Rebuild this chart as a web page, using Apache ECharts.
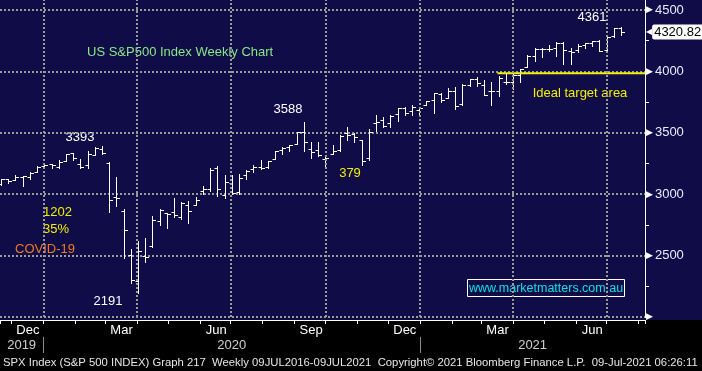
<!DOCTYPE html>
<html><head><meta charset="utf-8">
<script src="https://cdn.jsdelivr.net/npm/echarts@6/dist/echarts.min.js"></script>
<style>html,body{margin:0;padding:0;background:#000;}#c{width:702px;height:371px;}</style>
</head><body><div id="c"></div>
<script>
// ---- data (weekly bars, dated by week-ending Friday) ----
var weekDates = ['2019-11-15','2019-11-22','2019-11-29','2019-12-06','2019-12-13','2019-12-20','2019-12-27',
'2020-01-03','2020-01-10','2020-01-17','2020-01-24','2020-01-31','2020-02-07','2020-02-14','2020-02-21','2020-02-28',
'2020-03-06','2020-03-13','2020-03-20','2020-03-27','2020-04-03','2020-04-10','2020-04-17','2020-04-24','2020-05-01',
'2020-05-08','2020-05-15','2020-05-22','2020-05-29','2020-06-05','2020-06-12','2020-06-19','2020-06-26','2020-07-03',
'2020-07-10','2020-07-17','2020-07-24','2020-07-31','2020-08-07','2020-08-14','2020-08-21','2020-08-28','2020-09-04',
'2020-09-11','2020-09-18','2020-09-25','2020-10-02','2020-10-09','2020-10-16','2020-10-23','2020-10-30','2020-11-06',
'2020-11-13','2020-11-20','2020-11-27','2020-12-04','2020-12-11','2020-12-18','2020-12-25','2021-01-01','2021-01-08',
'2021-01-15','2021-01-22','2021-01-29','2021-02-05','2021-02-12','2021-02-19','2021-02-26','2021-03-05','2021-03-12',
'2021-03-19','2021-03-26','2021-04-02','2021-04-09','2021-04-16','2021-04-23','2021-04-30','2021-05-07','2021-05-14',
'2021-05-21','2021-05-28','2021-06-04','2021-06-11','2021-06-18','2021-06-25','2021-07-02','2021-07-09'];
var opens = [3080.3,3123.4,3117.4,3143.9,3141.9,3183.6,3229.7,
3247.2,3217.6,3273.4,3333.1,3247.2,3235.7,3318.3,3369.0,3257.6,
2974.3,2863.9,2508.6,2290.7,2498.1,2578.3,2782.5,2845.6,2854.7,
2815.0,2915.5,2913.9,3025.2,3038.8,3213.3,2993.8,3094.4,3018.6,
3155.3,3205.1,3224.3,3219.8,3288.3,3356.0,3380.9,3410.0,3507.4,
3370.3,3363.6,3285.6,3324.0,3359.9,3500.0,3493.5,3441.4,3296.2,
3583.0,3600.2,3579.3,3653.8,3706.0,3675.3,3684.3,3723.0,3764.6,
3819.9,3781.9,3844.2,3731.2,3892.6,3939.6,3885.6,3842.5,3844.4,
3913.1,3916.5,3969.3,4034.4,4127.0,4179.8,4185.1,4192.0,4228.3,
4169.1,4170.2,4216.5,4233.0,4248.9,4173.4,4284.9,4356.5];
var highs = [3120.5,3127.6,3154.3,3150.6,3182.7,3225.6,3247.9,
3247.9,3282.0,3329.9,3337.8,3285.9,3348.0,3385.1,3393.5,3259.8,
3136.7,2882.6,2553.9,2615.9,2641.4,2818.6,2879.2,2846.0,2965.7,
2934.9,2944.3,2980.3,3068.7,3211.7,3233.1,3155.5,3155.5,3165.8,
3197.5,3240.7,3279.3,3272.9,3352.5,3387.9,3400.0,3509.4,3588.1,
3425.6,3428.9,3320.3,3397.2,3479.6,3549.9,3502.4,3441.4,3529.0,
3646.0,3628.5,3644.3,3699.2,3712.4,3726.7,3711.2,3756.1,3826.7,
3823.6,3861.5,3870.9,3894.6,3937.0,3950.4,3928.6,3914.5,3960.3,
3983.9,3978.2,4020.6,4129.5,4191.3,4194.2,4218.8,4238.0,4236.4,
4188.7,4219.6,4233.9,4249.7,4257.2,4286.1,4355.0,4361.9];
var lows = [3072.2,3091.4,3117.4,3070.3,3124.4,3183.6,3226.4,
3212.0,3214.6,3270.0,3281.5,3214.7,3214.6,3317.8,3328.5,2855.8,
2901.5,2478.9,2280.5,2191.9,2447.5,2566.7,2749.0,2727.1,2815.0,
2797.9,2766.6,2913.9,2999.7,3025.2,2984.0,2965.7,3004.6,2999.5,
3127.1,3184.0,3202.3,3209.5,3284.5,3327.0,3354.7,3410.0,3349.6,
3293.6,3313.9,3209.5,3323.7,3354.9,3440.4,3424.8,3233.9,3279.7,
3511.9,3545.6,3549.9,3594.4,3644.8,3645.8,3636.5,3723.0,3662.7,
3749.6,3781.9,3694.1,3725.6,3884.9,3884.9,3805.6,3723.3,3798.4,
3894.0,3853.5,3917.1,4034.4,4086.2,4118.4,4164.9,4123.0,4056.9,
4061.4,4155.9,4188.1,4205.5,4164.4,4173.4,4278.9,4300.4];
var closes = [3120.5,3110.3,3141.0,3145.9,3168.8,3221.2,3240.0,
3234.9,3265.4,3329.6,3295.5,3225.5,3327.7,3380.2,3337.8,2954.2,
2972.4,2711.0,2304.9,2541.5,2488.7,2789.8,2874.6,2836.7,2830.7,
2929.8,2863.7,2955.5,3044.3,3193.9,3041.3,3097.7,3009.1,3130.0,
3185.0,3224.7,3215.6,3271.1,3351.3,3372.9,3397.2,3508.0,3427.0,
3341.0,3319.5,3298.5,3348.4,3477.1,3483.3,3465.4,3270.0,3509.4,
3585.2,3557.5,3638.4,3699.1,3663.5,3709.4,3703.1,3756.1,3824.7,
3768.3,3841.5,3714.2,3886.8,3934.8,3906.7,3811.2,3841.9,3943.3,
3913.1,3974.5,4019.9,4128.8,4185.5,4180.2,4181.2,4232.6,4173.9,
4155.9,4204.1,4229.9,4247.4,4166.5,4280.7,4352.3,4320.82];
var lastPrice = 4320.82;
var yLabelValues = [2500,3000,3500,4000,4500];
var shownMonths = {11:'Dec',2:'Mar',5:'Jun',8:'Sep'};
var yearLabels = ['2019','2020','2021'];
var quarterStarts = ['2020-01-01','2020-04-01','2020-07-01','2020-10-01','2021-01-01','2021-04-01','2021-07-01'];
var targetLevel = 3985;
var targetStart = '2021-03-17';

// ---- helpers ----
function d(s){var p=s.split('-');return Date.UTC(+p[0],+p[1]-1,+p[2]);}
var DAY = 86400000;
var T0 = Date.UTC(2019,10,20), T1 = Date.UTC(2021,7,7,5);
var BAR_SHIFT = 6*DAY; // Bloomberg draws each weekly bar one slot to the right of its date grid
var ohlc = weekDates.map(function(s,i){return [d(s),opens[i],highs[i],lows[i],closes[i]];});
var yearData = yearLabels.map(function(y){
  var s=Math.max(Date.UTC(+y,0,1),T0), e=Math.min(Date.UTC(+y+1,0,1),T1);
  return [(s+e)/2,0.5,y];
});
var yearStarts = yearLabels.map(function(y){return Date.UTC(+y,0,1);}).filter(function(t){return t>T0&&t<T1;});
var FONT='Liberation Sans, Arial, sans-serif';
var dotted={color:'#9a9a9a',width:2,type:[2,2]};
var CLEAR='rgba(0,0,0,0)';

var chart = echarts.init(document.getElementById('c'));
chart.setOption({
  animation:false,
  useUTC:true,
  backgroundColor:'#000',
  textStyle:{fontFamily:FONT},
  grid:[
    {left:0,right:57,top:0,bottom:54,containLabel:false,outerBoundsMode:'none'},
    {left:0,right:57,top:337,height:16,containLabel:false,outerBoundsMode:'none'}
  ],
  xAxis:[
    {type:'time',gridIndex:0,min:T0,max:T1,position:'bottom',offset:3,
     minInterval:40*DAY,maxInterval:40*DAY,
     axisLine:{show:true,lineStyle:{color:'#ffffff',width:1}},
     axisTick:{show:true,length:4,lineStyle:{color:'#ffffff'}},
     splitLine:{show:false},
     axisLabel:{show:true,margin:4,hideOverlap:false,showMinLabel:true,showMaxLabel:true,
       formatter:function(v){var t=new Date(v);
         if(t.getUTCDate()!==1||t.getUTCHours()!==0)return '';
         var m=shownMonths[t.getUTCMonth()];return m?'{m|'+m+'}':'';},
       rich:{m:{color:'#ffffff',fontSize:13,fontFamily:FONT,padding:[0,0,0,33]}}}},
    {type:'time',gridIndex:0,min:T0-BAR_SHIFT,max:T1-BAR_SHIFT,show:false},
    {type:'time',gridIndex:1,min:T0,max:T1,show:false}
  ],
  yAxis:[
    {type:'value',gridIndex:0,min:2000,max:4581.4,interval:250,position:'right',
     axisLine:{show:true,lineStyle:{color:'#ffffff',width:1}},
     axisTick:{show:true,length:4,inside:false,lineStyle:{color:'#ffffff'}},
     splitLine:{show:false},
     axisLabel:{show:true,margin:1,showMinLabel:true,showMaxLabel:false,
       formatter:function(v){
         if(v===2000)return '{t|▶}';
         return yLabelValues.indexOf(v)>=0?'{t|▶}{v|'+v+'}':'';},
       rich:{t:{color:'#ffffff',fontSize:9,fontFamily:'DejaVu Sans'},
             v:{color:'#e8ecff',fontSize:13,fontFamily:FONT,padding:[0,0,0,2]}}}},
    {type:'value',gridIndex:0,min:2000,max:4581.4,interval:500,position:'right',
     axisLine:{show:false},axisTick:{show:false},axisLabel:{show:false},
     splitLine:{show:true,showMinLine:true,showMaxLine:false,lineStyle:dotted}},
    {type:'value',gridIndex:1,min:0,max:1,show:false}
  ],
  series:[
    {type:'custom',name:'SPX',xAxisIndex:1,yAxisIndex:0,clip:true,
     dimensions:['date','open','high','low','close'],
     encode:{x:0,y:[1,2,3,4]},
     data:ohlc,
     renderItem:function(params,api){
       var t=api.value(0);
       var pO=api.coord([t,api.value(1)]),pH=api.coord([t,api.value(2)]),
           pL=api.coord([t,api.value(3)]),pC=api.coord([t,api.value(4)]);
       var x=Math.round(pH[0])+0.5;
       var yo=Math.round(pO[1])+0.5,yc=Math.round(pC[1])+0.5;
       var st={stroke:'#ffffff',lineWidth:1};
       return {type:'group',children:[
         {type:'line',shape:{x1:x,y1:Math.round(pH[1]),x2:x,y2:Math.round(pL[1])+1},style:st},
         {type:'line',shape:{x1:x-3,y1:yo,x2:x,y2:yo},style:st},
         {type:'line',shape:{x1:x,y1:yc,x2:x+3.5,y2:yc},style:st}
       ]};
     },
     markLine:{silent:true,symbol:['none','none'],animation:false,
       lineStyle:{color:CLEAR,width:0,type:'solid'},
       label:{show:true,position:'end',distance:1,
         formatter:'{a|◀}{b|'+lastPrice.toFixed(2)+'}',
         rich:{a:{color:'#ffffff',fontSize:8,fontFamily:'DejaVu Sans'},
               b:{color:'#000000',backgroundColor:'#ffffff',fontSize:13,fontFamily:FONT,
                  padding:[1,3,1,2],borderRadius:2}}},
       data:[{yAxis:lastPrice}]}
    },
    {type:'line',name:'target',xAxisIndex:0,yAxisIndex:0,symbol:'none',silent:true,
     lineStyle:{color:'#f2f200',width:2},
     data:[[d(targetStart),targetLevel],[T1,targetLevel]],
     markLine:{silent:true,symbol:['none','none'],label:{show:false},
       lineStyle:dotted,
       data:quarterStarts.map(function(s){return {xAxis:d(s)};})}
    },
    {type:'scatter',name:'years',xAxisIndex:2,yAxisIndex:2,symbolSize:1,silent:true,
     itemStyle:{color:CLEAR},
     label:{show:true,position:'inside',color:'#ffffff',fontSize:13,fontFamily:FONT,
       formatter:function(p){return p.value[2];}},
     data:yearData,
     markLine:{silent:true,symbol:['none','none'],label:{show:false},
       lineStyle:{color:'#8c8c8c',width:1,type:'solid'},
       data:yearStarts.map(function(t){return {xAxis:t};})}
    }
  ],
  graphic:[
    {type:'rect',z:-100,silent:true,shape:{x:0,y:0,width:702,height:320},style:{fill:'#100c48'}},
    {type:'text',silent:true,style:{x:87,y:52,text:'US S&P500 Index Weekly Chart',fill:'#86e886',font:'13px '+FONT,textVerticalAlign:'middle'}},
    {type:'text',silent:true,style:{x:80,y:137,text:'3393',fill:'#ffffff',font:'13px '+FONT,textAlign:'center',textVerticalAlign:'middle'}},
    {type:'text',silent:true,style:{x:288,y:109,text:'3588',fill:'#ffffff',font:'13px '+FONT,textAlign:'center',textVerticalAlign:'middle'}},
    {type:'text',silent:true,style:{x:350,y:173,text:'379',fill:'#f0f000',font:'13px '+FONT,textAlign:'center',textVerticalAlign:'middle'}},
    {type:'text',silent:true,style:{x:592,y:17,text:'4361',fill:'#ffffff',font:'13px '+FONT,textAlign:'center',textVerticalAlign:'middle'}},
    {type:'text',silent:true,style:{x:580,y:93,text:'Ideal target area',fill:'#f0f000',font:'13px '+FONT,textAlign:'center',textVerticalAlign:'middle'}},
    {type:'text',silent:true,style:{x:43,y:212,text:'1202',fill:'#f0f000',font:'13px '+FONT,textVerticalAlign:'middle'}},
    {type:'text',silent:true,style:{x:43,y:229,text:'35%',fill:'#f0f000',font:'13px '+FONT,textVerticalAlign:'middle'}},
    {type:'text',silent:true,style:{x:15,y:249,text:'COVID-19',fill:'#f07a20',font:'13px '+FONT,textVerticalAlign:'middle'}},
    {type:'text',silent:true,style:{x:108,y:301,text:'2191',fill:'#ffffff',font:'13px '+FONT,textAlign:'center',textVerticalAlign:'middle'}},
    {type:'rect',silent:true,shape:{x:467.5,y:279.5,width:157,height:17},style:{fill:'none',stroke:'#ffffff',lineWidth:1}},
    {type:'text',silent:true,style:{x:546,y:288.5,text:'www.marketmatters.com.au',fill:'#10e0e0',font:'12.5px '+FONT,textAlign:'center',textVerticalAlign:'middle'}},
    {type:'text',silent:true,style:{x:3,y:363,text:'SPX Index (S&P 500 INDEX) Graph 217  Weekly 09JUL2016-09JUL2021  Copyright© 2021 Bloomberg Finance L.P.  09-Jul-2021 06:26:11',fill:'#e6e6e6',font:'11.3px '+FONT,textVerticalAlign:'middle'}}
  ]
});
</script></body></html>
